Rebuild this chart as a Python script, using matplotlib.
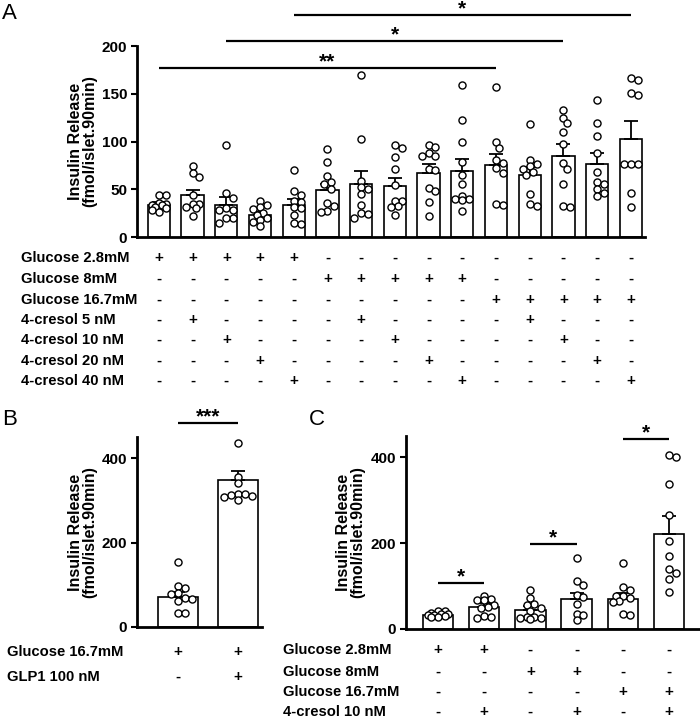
import matplotlib
matplotlib.use('Agg')
import matplotlib.pyplot as plt
from matplotlib.transforms import blended_transform_factory as btf
import numpy as np

plt.rcParams['font.family'] = ['Liberation Sans', 'DejaVu Sans']
plt.rcParams['font.weight'] = 'bold'

# ---------------- data ----------------
# Panel A
A_means = [34, 44, 34, 23, 34, 49, 55, 53, 67, 69, 75, 65, 85, 76, 103]
A_sems = [3, 5, 8, 3, 6, 7, 14, 9, 9, 13, 12, 8, 12, 12, 18]
A_points = [
    [44, 44, 36, 35, 34, 33, 31, 30, 28, 26],
    [74, 67, 63, 44, 35, 35, 31, 30, 22],
    [96, 46, 41, 30, 28, 28, 20, 20, 15],
    [38, 33, 31, 29, 25, 23, 20, 18, 16, 11],
    [70, 48, 44, 38, 37, 31, 30, 23, 15, 14],
    [92, 79, 64, 58, 55, 50, 36, 32, 27, 26],
    [170, 103, 59, 52, 50, 45, 34, 25, 24, 20],
    [96, 93, 84, 71, 54, 38, 38, 32, 31, 23],
    [96, 94, 88, 85, 85, 71, 70, 51, 48, 37, 22],
    [159, 123, 99, 79, 65, 55, 43, 40, 40, 39, 27],
    [157, 99, 93, 81, 78, 72, 67, 35, 34],
    [118, 81, 76, 74, 71, 68, 65, 45, 35, 32],
    [133, 125, 119, 110, 97, 77, 71, 55, 32, 31],
    [143, 119, 106, 88, 68, 58, 56, 50, 46, 43],
    [166, 164, 151, 149, 76, 76, 76, 46, 31],
]
A_row_labels = ["Glucose 2.8mM", "Glucose 8mM", "Glucose 16.7mM",
                "4-cresol 5 nM", "4-cresol 10 nM", "4-cresol 20 nM", "4-cresol 40 nM"]
A_rows = ["+++++----------",
          "-----+++++-----",
          "----------+++++",
          "-+----+----+---",
          "--+----+----+--",
          "---+----+----+-",
          "----+----+----+"]
A_sig = [("**", 0, 10, 177), ("*", 2, 12, 205), ("*", 4, 14, 232)]

# Panel B
B_means = [72, 348]
B_sems = [10, 21]
B_points = [
    [153, 97, 92, 80, 78, 68, 66, 62, 33, 33],
    [435, 356, 340, 316, 315, 312, 310, 308, 300],
]
B_row_labels = ["Glucose 16.7mM", "GLP1 100 nM"]
B_rows = ["++", "-+"]
B_sig = [("***", 0, 1, 483)]

# Panel C
C_means = [33, 52, 44, 69, 71, 222]
C_sems = [3, 8, 9, 15, 14, 41]
C_points = [
    [43, 41, 38, 36, 35, 33, 32, 30, 29, 27],
    [78, 70, 68, 67, 55, 52, 50, 30, 28, 26],
    [90, 72, 58, 55, 50, 42, 28, 27, 26, 25, 24],
    [166, 112, 102, 79, 74, 58, 36, 33, 20],
    [154, 97, 90, 78, 76, 73, 65, 63, 35, 33],
    [406, 400, 339, 265, 205, 170, 139, 131, 116, 87],
]
C_row_labels = ["Glucose 2.8mM", "Glucose 8mM", "Glucose 16.7mM", "4-cresol 10 nM"]
C_rows = ["++----", "--++--", "----++", "-+-+-+"]
C_sig = [("*", 0, 1, 107), ("*", 2, 3, 198), ("*", 4, 5, 442)]

YLABEL = "Insulin Release\n(fmol/islet.90min)"

# ---------------- figure ----------------
W, H = 700, 721
fig = plt.figure(figsize=(W / 100, H / 100), dpi=100)


def fx(px):
    return px / W


def fy(py):
    return 1 - py / H


def make_axes(l, r, b, t):
    return fig.add_axes([fx(l), fy(b), fx(r) - fx(l), fy(t) - fy(b)])


def swarm_x(ax, xc, vals, halfw, diam=7.6):
    tr = ax.transData
    inv = tr.inverted()
    pix = tr.transform(np.column_stack([np.full(len(vals), xc), vals]))
    x0 = pix[0, 0]
    hw = abs(tr.transform((xc + halfw, 0))[0] - x0) - diam * 0.35
    step = diam * 0.45
    cands = [0.0]
    k = 1
    while k * step <= hw:
        cands += [k * step, -k * step]
        k += 1
    order = np.argsort(vals)[::-1]
    placed = []
    out = np.zeros(len(vals))
    for i in order:
        yp = pix[i, 1]
        best, bestd = 0.0, -1
        chosen = None
        for off in cands:
            d = min([np.hypot(x0 + off - px, yp - py) for px, py in placed] + [1e9])
            if d >= diam * 0.85:
                chosen = off
                break
            if d > bestd:
                bestd, best = d, off
        if chosen is None:
            chosen = best
        placed.append((x0 + chosen, yp))
        out[i] = inv.transform((x0 + chosen, yp))[0]
    return out


def panel(ax, means, sems, pts, xlim, ylim, yticks, width=0.66):
    n = len(means)
    x = np.arange(n)
    ax.set_xlim(*xlim)
    ax.set_ylim(*ylim)
    ax.bar(x, means, width, color='white', edgecolor='black', linewidth=1.2, zorder=1)
    ax.errorbar(x, means, yerr=[np.zeros(n), sems], fmt='none', ecolor='black',
                elinewidth=1.3, capsize=5, capthick=1.3, zorder=2)
    for i, vals in enumerate(pts):
        xs = swarm_x(ax, i, np.array(vals, dtype=float), width / 2)
        ax.scatter(xs, vals, s=26, facecolors='white', edgecolors='black',
                   linewidths=1.0, zorder=3, clip_on=False)
    for s in ['top', 'right']:
        ax.spines[s].set_visible(False)
    for s in ['left', 'bottom']:
        ax.spines[s].set_linewidth(2.0)
    ax.set_xticks([])
    ax.set_yticks(yticks)
    ax.tick_params(axis='y', length=4, width=1.5, labelsize=11, pad=3)
    for lab in ax.get_yticklabels():
        lab.set_fontweight('bold')


def table(ax, labels, rows, ys, xlab):
    tr = btf(ax.transData, fig.transFigure)
    for lab, row, y in zip(labels, rows, ys):
        fig.text(fx(xlab), fy(y), lab, ha='left', va='center', fontsize=10.6,
                 fontweight='bold')
        for i, s in enumerate(row):
            ax.text(i, fy(y), s, transform=tr, ha='center', va='center',
                    fontsize=11, fontweight='bold')


def sig(ax, items):
    for s, i0, i1, y in items:
        ax.plot([i0, i1], [y, y], color='black', lw=1.6, clip_on=False,
                solid_capstyle='butt')
        ax.annotate(s, ((i0 + i1) / 2, y), xytext=(0, 0.5), textcoords='offset points',
                    ha='center', va='baseline', fontsize=15, fontweight='bold',
                    annotation_clip=False)


def ylab(ax, xc):
    ax.set_ylabel(YLABEL, fontsize=11.5, fontweight='bold', linespacing=0.9)
    ax.yaxis.set_label_coords(xc, 0.5)


# Panel A
axA = make_axes(137, 645, 237, 46)
panel(axA, A_means, A_sems, A_points, (-0.65, 14.42), (0, 200), [0, 50, 100, 150, 200])
ylab(axA, -0.079)
table(axA, A_row_labels, A_rows, [258, 279, 300, 320, 340, 361, 381], 21)
sig(axA, A_sig)

# Panel B
axB = make_axes(137, 262, 627, 437)
panel(axB, B_means, B_sems, B_points, (-0.68, 1.4), (0, 450), [0, 200, 400])
ylab(axB, -0.32)
table(axB, B_row_labels, B_rows, [652, 677], 7)
sig(axB, B_sig)

# Panel C
axC = make_axes(406, 700, 629, 436)
panel(axC, C_means, C_sems, C_points, (-0.69, 5.67), (0, 450), [0, 200, 400])
ylab(axC, -0.139)
table(axC, C_row_labels, C_rows, [650, 672, 692, 712], 283)
sig(axC, C_sig)

# Panel letters
fig.text(fx(2), fy(3), "A", fontsize=16, fontweight='normal', ha='left', va='top')
fig.text(fx(2), fy(409), "B", fontsize=16, fontweight='normal', ha='left', va='top')
fig.text(fx(309), fy(409), "C", fontsize=16, fontweight='normal', ha='left', va='top')

fig.savefig('out.png', dpi=100)
